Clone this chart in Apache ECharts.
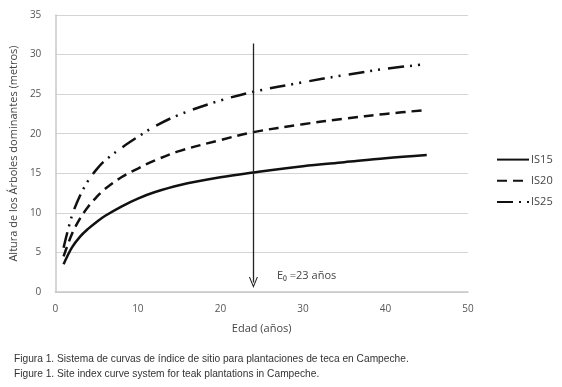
<!DOCTYPE html>
<html>
<head>
<meta charset="utf-8">
<script src="https://cdn.jsdelivr.net/npm/echarts@6/dist/echarts.min.js"></script>
<style>
  html, body { margin: 0; padding: 0; background: #fff; }
  #chart { width: 562px; height: 387px; }
</style>
</head>
<body>
<div id="chart"></div>
<script>
// edad (años)
const ages = [1, 2, 3, 4, 5, 6, 8, 10, 12, 15, 20, 24, 30, 35, 40, 45]
// altura dominante (m)
const is15 = [3.5, 5.6, 7.0, 8.0, 8.85, 9.6, 10.8, 11.8, 12.6, 13.5, 14.5, 15.1, 15.9, 16.4, 16.9, 17.3]
const is20 = [4.5, 7.3, 9.3, 10.8, 12.0, 13.0, 14.5, 15.6, 16.6, 17.8, 19.2, 20.2, 21.2, 21.9, 22.5, 23.0]
const is25 = [5.6, 9.6, 12.2, 14.1, 15.5, 16.6, 18.2, 19.6, 20.9, 22.4, 24.2, 25.3, 26.5, 27.4, 28.2, 28.8]
const seriesNames = ['IS15', 'IS20', 'IS25']
// flecha de la edad de referencia
const arrowX = 24
const arrowTop = 31.4
const arrowBottom = 1.2
const arrowLabel = 'E₀ =23 años'
const caption = [
    'Figura 1. Sistema de curvas de índice de sitio para plantaciones de teca en Campeche.',
    'Figure 1. Site index curve system for teak plantations in Campeche.',
]

const pair = (ys) => ages.map((a, i) => [a, ys[i]])
const labelFont = 'Open Sans, sans-serif'

const chart = echarts.init(document.getElementById('chart'))

const lineSeries = (name, ys, type) => ({
    name,
    type: 'line',
    data: pair(ys),
    smooth: 0.35,
    symbol: 'none',
    lineStyle: { color: '#111', width: 2.5, type },
    itemStyle: { color: '#111' },
    z: 3,
})

const option = {
    animation: false,
    grid: { left: 55, right: 94, top: 15, bottom: 95 },
    legend: {
        orient: 'vertical',
        left: 491,
        top: 149,
        itemWidth: 32,
        itemHeight: 14,
        itemGap: 10,
        itemStyle: { opacity: 0 },
        textStyle: { fontFamily: labelFont, fontSize: 11, color: '#444', padding: [0, 0, 0, -3] },
        data: seriesNames,
    },
    xAxis: {
        type: 'value',
        min: 0,
        max: 50,
        interval: 10,
        name: 'Edad (años)',
        nameLocation: 'middle',
        nameGap: 31,
        nameTextStyle: { fontFamily: labelFont, fontSize: 11, color: '#444' },
        axisLine: { lineStyle: { color: '#c8c8c8', width: 1.5 } },
        axisTick: { show: false },
        axisLabel: { fontFamily: labelFont, fontSize: 10, color: '#555', margin: 12 },
        splitLine: { show: false },
    },
    yAxis: {
        type: 'value',
        min: 0,
        max: 35,
        interval: 5,
        name: 'Altura de los Árboles dominantes (metros)',
        nameLocation: 'middle',
        nameGap: 28,
        nameTextStyle: { fontFamily: labelFont, fontSize: 11, color: '#444' },
        axisLine: { show: true, lineStyle: { color: '#c8c8c8', width: 1.5 } },
        axisTick: { show: false },
        axisLabel: { fontFamily: labelFont, fontSize: 10, color: '#555', margin: 14 },
        splitLine: { lineStyle: { color: '#d4d4d4', width: 1.2 } },
    },
    series: [
        lineSeries(seriesNames[0], is15, 'solid'),
        lineSeries(seriesNames[1], is20, [10, 6]),
        lineSeries(seriesNames[2], is25, [16, 6, 2, 6, 2, 8]),
        {
            type: 'line',
            data: [],
            silent: true,
            markLine: {
                silent: true,
                animation: false,
                symbolSize: [9, 11],
                lineStyle: { color: '#222', width: 1.3, type: 'solid' },
                label: { show: false },
                data: [[
                    { coord: [arrowX, arrowTop], symbol: 'none' },
                    { coord: [arrowX, arrowBottom], symbol: 'path://M5,0 L10,10 L8.8,10 L5,2.4 L1.2,10 L0,10 Z' },
                ]],
            },
        },
    ],
    graphic: [
        {
            type: 'text',
            left: 277,
            top: 270,
            style: { text: arrowLabel, font: '11px Open Sans, sans-serif', fill: '#444' },
        },
        {
            type: 'text',
            left: 14,
            top: 352,
            style: {
                text: caption.join('\n'),
                font: '10.2px Liberation Sans, sans-serif',
                lineHeight: 15,
                fill: '#333',
            },
        },
    ],
}

chart.setOption(option)
</script>
</body>
</html>
